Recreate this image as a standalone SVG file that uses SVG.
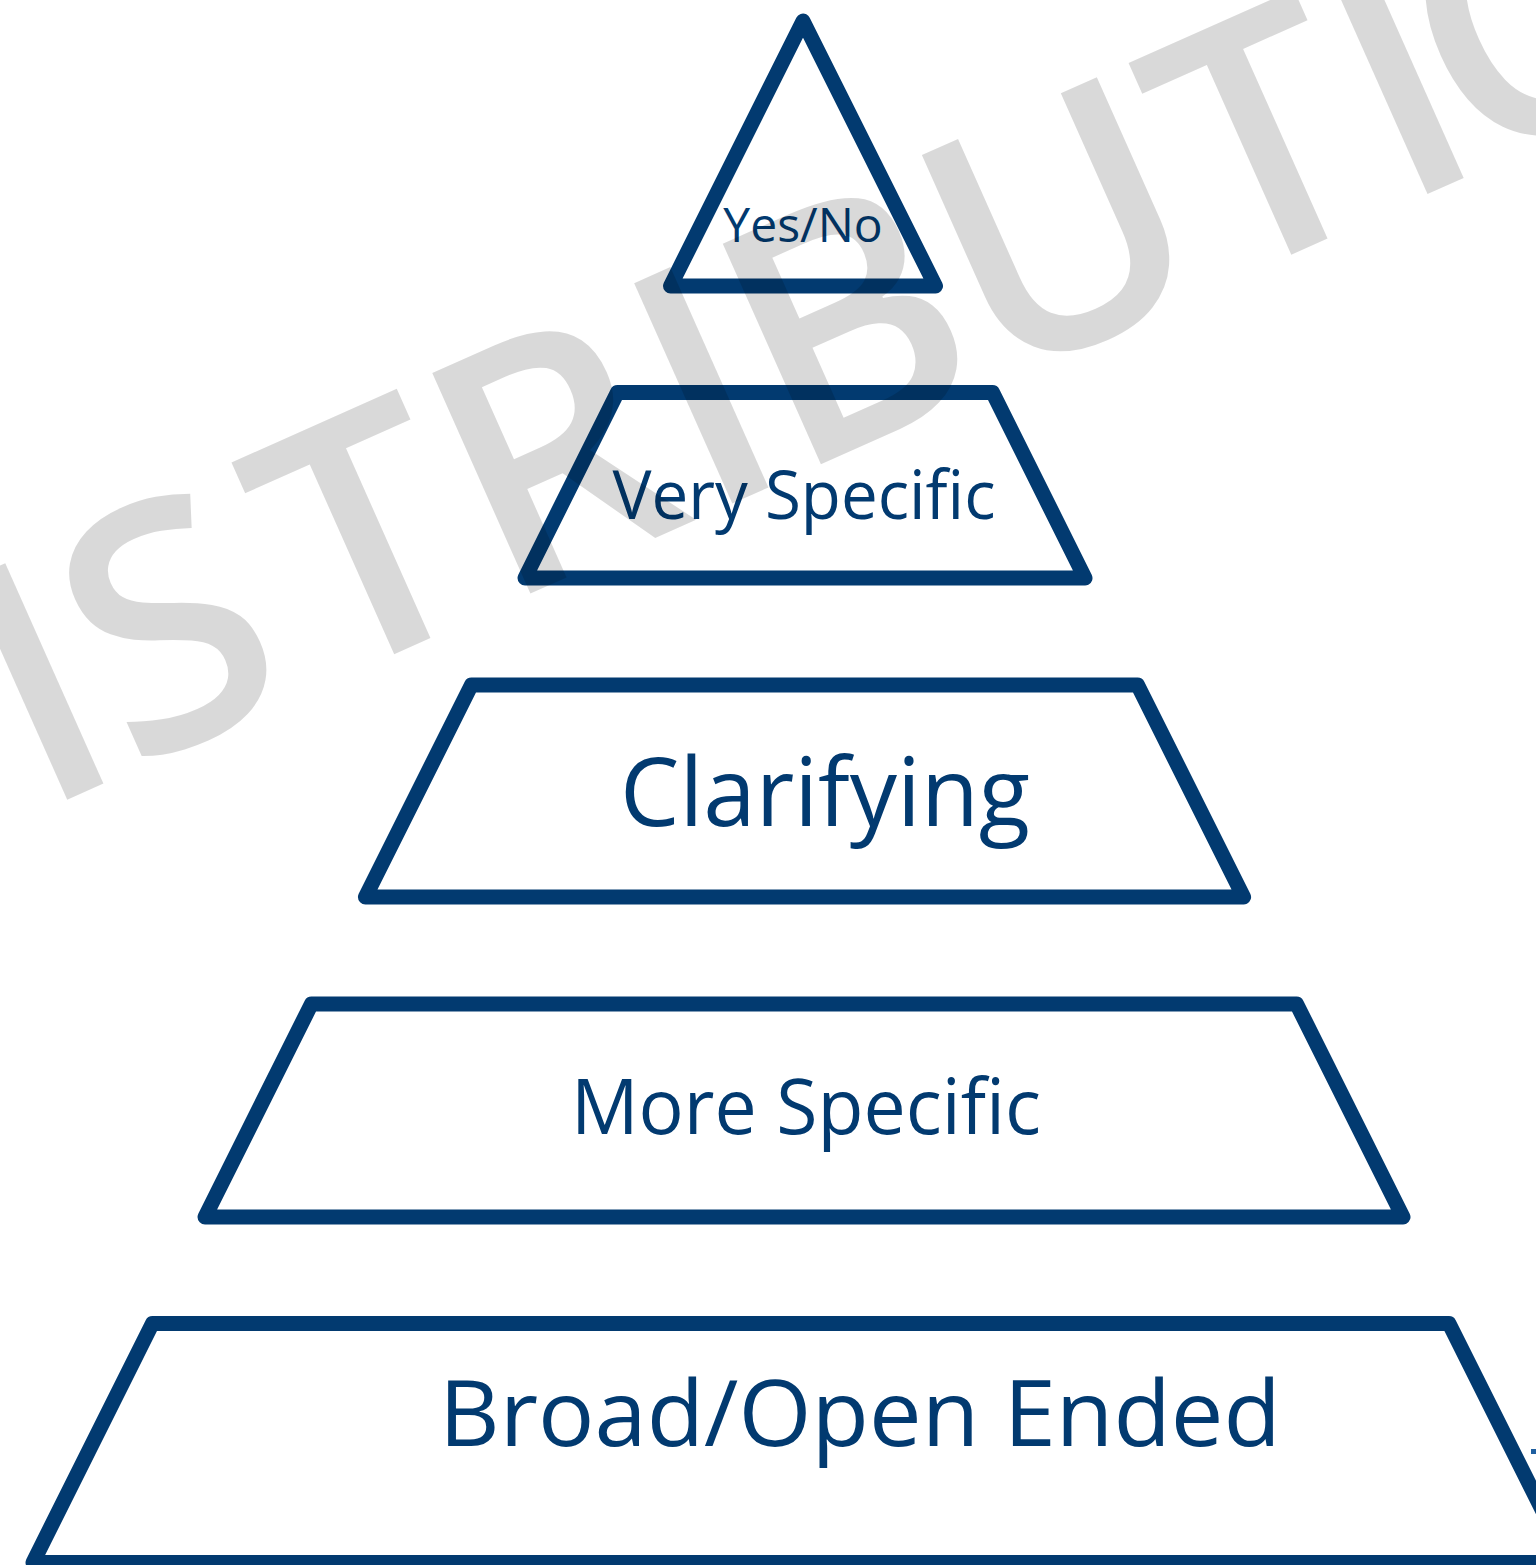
<svg xmlns="http://www.w3.org/2000/svg" width="1536" height="1565" viewBox="0 0 1536 1565">
  <style>
    .tier { fill: #ffffff; stroke: #023a70; stroke-width: 15; stroke-linejoin: round; }
    .label { fill: #023a70; font-family: "Open Sans", "Liberation Sans", sans-serif; text-anchor: middle; }
    .mark { fill: #000000; fill-opacity: 0.15; font-family: "Open Sans", "Liberation Sans", sans-serif; font-weight: 650; font-size: 338px; }
  </style>
  <rect width="1536" height="1565" fill="#ffffff"/>

  <!-- pyramid tiers, top to bottom -->
  <g id="tier-yes-no">
    <polygon class="tier" points="803,21 935.5,286 670.5,286"/>
    <text class="label" x="803" y="242" font-size="48">Yes/No</text>
  </g>
  <g id="tier-very-specific">
    <polygon class="tier" points="617.4,392.5 992.6,392.5 1085,578 525,578"/>
    <text class="label" x="804" y="519" font-size="67" textLength="383" lengthAdjust="spacingAndGlyphs">Very Specific</text>
  </g>
  <g id="tier-clarifying">
    <polygon class="tier" points="471.4,685 1137.6,685 1243.6,897 365.4,897"/>
    <text class="label" x="825" y="826" font-size="96" textLength="410" lengthAdjust="spacingAndGlyphs">Clarifying</text>
  </g>
  <g id="tier-more-specific">
    <polygon class="tier" points="311.4,1004 1296.6,1004 1403,1217 205,1217"/>
    <text class="label" x="806" y="1134" font-size="77" textLength="470" lengthAdjust="spacingAndGlyphs">More Specific</text>
  </g>
  <g id="tier-broad">
    <polygon class="tier" points="152.4,1323.5 1449,1323.5 1568.5,1562.5 33,1562.5"/>
    <text class="label" x="860" y="1446" font-size="91" font-weight="500" textLength="842" lengthAdjust="spacingAndGlyphs">Broad/Open Ended</text>
    <rect x="1531" y="1449" width="5" height="5" fill="#1f5fa0"/>
  </g>

  <!-- connectors: none between tiers -->
  <g id="connectors"/>

  <!-- translucent diagonal watermark over everything -->
  <g id="watermark" transform="translate(390,656) rotate(-24)">
    <text class="mark" x="-625 -385 -284 -71 122 343 440 660 911 1104 1184 1451" y="0">DISTRIBUTION</text>
  </g>
</svg>
